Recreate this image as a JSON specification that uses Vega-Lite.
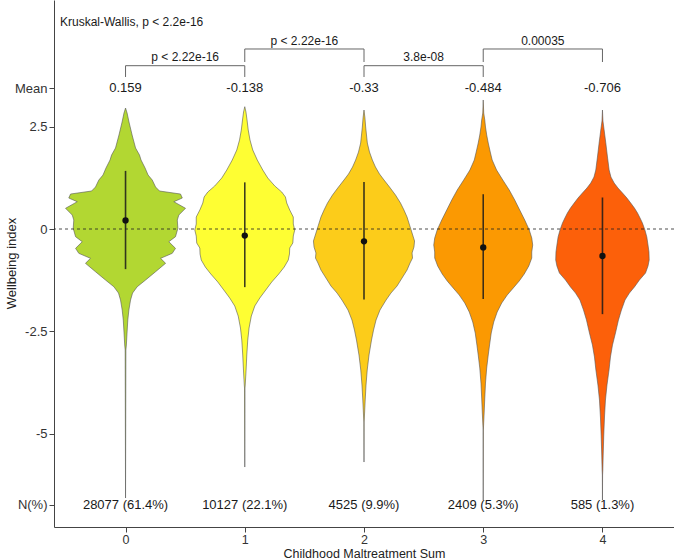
{
  "$schema": "https://vega.github.io/schema/vega-lite/v6.json",
  "width": 620,
  "height": 527,
  "autosize": {"type": "none"},
  "padding": {"left": 54, "top": 0, "right": 0, "bottom": 32},
  "background": "white",
  "config": {
    "font": "Liberation Sans",
    "view": {"stroke": null},
    "axis": {"grid": false}
  },
  "datasets": {
    "violins": [
      {"g":0,"y":2.956,"lo":0,"hi":0},{"g":0,"y":2.834,"lo":-0.013,"hi":0.013},{"g":0,"y":2.614,"lo":-0.029,"hi":0.029},{"g":0,"y":2.297,"lo":-0.055,"hi":0.055},{"g":0,"y":1.979,"lo":-0.084,"hi":0.084},{"g":0,"y":1.808,"lo":-0.117,"hi":0.117},{"g":0,"y":1.686,"lo":-0.13,"hi":0.13},{"g":0,"y":1.49,"lo":-0.164,"hi":0.164},{"g":0,"y":1.319,"lo":-0.189,"hi":0.189},{"g":0,"y":1.197,"lo":-0.224,"hi":0.224},{"g":0,"y":1.026,"lo":-0.252,"hi":0.252},{"g":0,"y":0.928,"lo":-0.285,"hi":0.285},{"g":0,"y":0.855,"lo":-0.461,"hi":0.461},{"g":0,"y":0.757,"lo":-0.476,"hi":0.476},{"g":0,"y":0.667,"lo":-0.405,"hi":0.405},{"g":0,"y":0.506,"lo":-0.503,"hi":0.503},{"g":0,"y":0.342,"lo":-0.447,"hi":0.447},{"g":0,"y":0.22,"lo":-0.434,"hi":0.434},{"g":0,"y":0.017,"lo":-0.439,"hi":0.439},{"g":0,"y":-0.188,"lo":-0.419,"hi":0.419},{"g":0,"y":-0.31,"lo":-0.363,"hi":0.363},{"g":0,"y":-0.472,"lo":-0.419,"hi":0.419},{"g":0,"y":-0.594,"lo":-0.392,"hi":0.392},{"g":0,"y":-0.716,"lo":-0.294,"hi":0.294},{"g":0,"y":-0.838,"lo":-0.336,"hi":0.336},{"g":0,"y":-1.043,"lo":-0.252,"hi":0.252},{"g":0,"y":-1.246,"lo":-0.168,"hi":0.168},{"g":0,"y":-1.41,"lo":-0.098,"hi":0.098},{"g":0,"y":-1.564,"lo":-0.059,"hi":0.059},{"g":0,"y":-1.735,"lo":-0.042,"hi":0.042},{"g":0,"y":-1.979,"lo":-0.028,"hi":0.028},{"g":0,"y":-2.223,"lo":-0.019,"hi":0.019},{"g":0,"y":-2.516,"lo":-0.013,"hi":0.013},{"g":0,"y":-2.834,"lo":-0.007,"hi":0.007},{"g":0,"y":-2.956,"lo":-0.003,"hi":0.003},{"g":0,"y":-6.572,"lo":0,"hi":0},
      {"g":1,"y":2.988,"lo":1,"hi":1},{"g":1,"y":2.859,"lo":0.99,"hi":1.01},{"g":1,"y":2.663,"lo":0.981,"hi":1.019},{"g":1,"y":2.419,"lo":0.971,"hi":1.029},{"g":1,"y":2.174,"lo":0.956,"hi":1.044},{"g":1,"y":1.93,"lo":0.933,"hi":1.067},{"g":1,"y":1.686,"lo":0.895,"hi":1.105},{"g":1,"y":1.441,"lo":0.849,"hi":1.151},{"g":1,"y":1.246,"lo":0.807,"hi":1.193},{"g":1,"y":1.051,"lo":0.748,"hi":1.252},{"g":1,"y":0.904,"lo":0.69,"hi":1.31},{"g":1,"y":0.782,"lo":0.659,"hi":1.341},{"g":1,"y":0.635,"lo":0.648,"hi":1.352},{"g":1,"y":0.464,"lo":0.623,"hi":1.377},{"g":1,"y":0.293,"lo":0.593,"hi":1.407},{"g":1,"y":0.122,"lo":0.593,"hi":1.407},{"g":1,"y":-0.024,"lo":0.581,"hi":1.419},{"g":1,"y":-0.171,"lo":0.593,"hi":1.407},{"g":1,"y":-0.342,"lo":0.597,"hi":1.403},{"g":1,"y":-0.464,"lo":0.623,"hi":1.377},{"g":1,"y":-0.611,"lo":0.625,"hi":1.375},{"g":1,"y":-0.757,"lo":0.635,"hi":1.365},{"g":1,"y":-0.928,"lo":0.669,"hi":1.331},{"g":1,"y":-1.099,"lo":0.715,"hi":1.285},{"g":1,"y":-1.295,"lo":0.774,"hi":1.226},{"g":1,"y":-1.49,"lo":0.824,"hi":1.176},{"g":1,"y":-1.686,"lo":0.874,"hi":1.126},{"g":1,"y":-1.881,"lo":0.916,"hi":1.084},{"g":1,"y":-2.126,"lo":0.945,"hi":1.055},{"g":1,"y":-2.419,"lo":0.964,"hi":1.036},{"g":1,"y":-2.712,"lo":0.975,"hi":1.025},{"g":1,"y":-3.078,"lo":0.983,"hi":1.017},{"g":1,"y":-3.445,"lo":0.989,"hi":1.011},{"g":1,"y":-3.811,"lo":0.996,"hi":1.004},{"g":1,"y":-3.885,"lo":0.998,"hi":1.002},{"g":1,"y":-5.815,"lo":1,"hi":1},
      {"g":2,"y":2.907,"lo":2,"hi":2},{"g":2,"y":2.712,"lo":1.992,"hi":2.008},{"g":2,"y":2.492,"lo":1.986,"hi":2.014},{"g":2,"y":2.101,"lo":1.972,"hi":2.028},{"g":2,"y":1.881,"lo":1.954,"hi":2.046},{"g":2,"y":1.686,"lo":1.93,"hi":2.07},{"g":2,"y":1.515,"lo":1.904,"hi":2.096},{"g":2,"y":1.344,"lo":1.87,"hi":2.13},{"g":2,"y":1.197,"lo":1.832,"hi":2.168},{"g":2,"y":1.026,"lo":1.786,"hi":2.214},{"g":2,"y":0.831,"lo":1.736,"hi":2.264},{"g":2,"y":0.635,"lo":1.694,"hi":2.306},{"g":2,"y":0.464,"lo":1.665,"hi":2.335},{"g":2,"y":0.293,"lo":1.639,"hi":2.361},{"g":2,"y":0.098,"lo":1.618,"hi":2.382},{"g":2,"y":-0.098,"lo":1.597,"hi":2.403},{"g":2,"y":-0.293,"lo":1.576,"hi":2.424},{"g":2,"y":-0.44,"lo":1.581,"hi":2.419},{"g":2,"y":-0.586,"lo":1.597,"hi":2.403},{"g":2,"y":-0.709,"lo":1.593,"hi":2.407},{"g":2,"y":-0.831,"lo":1.614,"hi":2.386},{"g":2,"y":-1.002,"lo":1.639,"hi":2.361},{"g":2,"y":-1.197,"lo":1.681,"hi":2.319},{"g":2,"y":-1.393,"lo":1.723,"hi":2.277},{"g":2,"y":-1.564,"lo":1.774,"hi":2.226},{"g":2,"y":-1.735,"lo":1.815,"hi":2.185},{"g":2,"y":-1.979,"lo":1.866,"hi":2.134},{"g":2,"y":-2.223,"lo":1.899,"hi":2.101},{"g":2,"y":-2.468,"lo":1.92,"hi":2.08},{"g":2,"y":-2.712,"lo":1.937,"hi":2.063},{"g":2,"y":-3.078,"lo":1.958,"hi":2.042},{"g":2,"y":-3.445,"lo":1.973,"hi":2.027},{"g":2,"y":-3.811,"lo":1.983,"hi":2.017},{"g":2,"y":-4.178,"lo":1.99,"hi":2.01},{"g":2,"y":-4.618,"lo":1.997,"hi":2.003},{"g":2,"y":-4.715,"lo":1.999,"hi":2.001},{"g":2,"y":-5.693,"lo":2,"hi":2},
      {"g":3,"y":3.152,"lo":3,"hi":3},{"g":3,"y":2.834,"lo":2.996,"hi":3.004},{"g":3,"y":2.663,"lo":2.987,"hi":3.013},{"g":3,"y":2.492,"lo":2.981,"hi":3.019},{"g":3,"y":2.297,"lo":2.971,"hi":3.029},{"g":3,"y":2.101,"lo":2.958,"hi":3.042},{"g":3,"y":1.881,"lo":2.941,"hi":3.059},{"g":3,"y":1.686,"lo":2.925,"hi":3.075},{"g":3,"y":1.441,"lo":2.888,"hi":3.112},{"g":3,"y":1.197,"lo":2.836,"hi":3.164},{"g":3,"y":0.953,"lo":2.782,"hi":3.218},{"g":3,"y":0.709,"lo":2.736,"hi":3.264},{"g":3,"y":0.464,"lo":2.694,"hi":3.306},{"g":3,"y":0.22,"lo":2.652,"hi":3.348},{"g":3,"y":-0.024,"lo":2.614,"hi":3.386},{"g":3,"y":-0.22,"lo":2.593,"hi":3.407},{"g":3,"y":-0.391,"lo":2.585,"hi":3.415},{"g":3,"y":-0.562,"lo":2.593,"hi":3.407},{"g":3,"y":-0.709,"lo":2.593,"hi":3.407},{"g":3,"y":-0.904,"lo":2.618,"hi":3.382},{"g":3,"y":-1.099,"lo":2.656,"hi":3.344},{"g":3,"y":-1.27,"lo":2.698,"hi":3.302},{"g":3,"y":-1.441,"lo":2.748,"hi":3.252},{"g":3,"y":-1.613,"lo":2.799,"hi":3.201},{"g":3,"y":-1.808,"lo":2.845,"hi":3.155},{"g":3,"y":-2.028,"lo":2.883,"hi":3.117},{"g":3,"y":-2.272,"lo":2.912,"hi":3.088},{"g":3,"y":-2.541,"lo":2.933,"hi":3.067},{"g":3,"y":-2.834,"lo":2.947,"hi":3.053},{"g":3,"y":-3.078,"lo":2.958,"hi":3.042},{"g":3,"y":-3.396,"lo":2.971,"hi":3.029},{"g":3,"y":-3.763,"lo":2.981,"hi":3.019},{"g":3,"y":-4.129,"lo":2.987,"hi":3.013},{"g":3,"y":-4.471,"lo":2.992,"hi":3.008},{"g":3,"y":-4.789,"lo":2.997,"hi":3.003},{"g":3,"y":-4.911,"lo":2.999,"hi":3.001},{"g":3,"y":-6.621,"lo":3,"hi":3},
      {"g":4,"y":2.907,"lo":4,"hi":4},{"g":4,"y":2.639,"lo":3.996,"hi":4.004},{"g":4,"y":2.419,"lo":3.986,"hi":4.014},{"g":4,"y":2.101,"lo":3.972,"hi":4.028},{"g":4,"y":1.759,"lo":3.958,"hi":4.042},{"g":4,"y":1.441,"lo":3.944,"hi":4.056},{"g":4,"y":1.27,"lo":3.929,"hi":4.071},{"g":4,"y":1.124,"lo":3.902,"hi":4.098},{"g":4,"y":1.002,"lo":3.87,"hi":4.13},{"g":4,"y":0.88,"lo":3.832,"hi":4.168},{"g":4,"y":0.757,"lo":3.795,"hi":4.205},{"g":4,"y":0.635,"lo":3.763,"hi":4.237},{"g":4,"y":0.513,"lo":3.732,"hi":4.268},{"g":4,"y":0.391,"lo":3.706,"hi":4.294},{"g":4,"y":0.269,"lo":3.685,"hi":4.315},{"g":4,"y":0.147,"lo":3.665,"hi":4.335},{"g":4,"y":-0.024,"lo":3.644,"hi":4.356},{"g":4,"y":-0.195,"lo":3.628,"hi":4.372},{"g":4,"y":-0.391,"lo":3.618,"hi":4.382},{"g":4,"y":-0.562,"lo":3.61,"hi":4.39},{"g":4,"y":-0.757,"lo":3.608,"hi":4.392},{"g":4,"y":-0.904,"lo":3.618,"hi":4.382},{"g":4,"y":-1.075,"lo":3.639,"hi":4.361},{"g":4,"y":-1.246,"lo":3.69,"hi":4.31},{"g":4,"y":-1.417,"lo":3.732,"hi":4.268},{"g":4,"y":-1.564,"lo":3.774,"hi":4.226},{"g":4,"y":-1.735,"lo":3.811,"hi":4.189},{"g":4,"y":-1.979,"lo":3.841,"hi":4.159},{"g":4,"y":-2.223,"lo":3.866,"hi":4.134},{"g":4,"y":-2.541,"lo":3.891,"hi":4.109},{"g":4,"y":-2.834,"lo":3.916,"hi":4.084},{"g":4,"y":-3.127,"lo":3.933,"hi":4.067},{"g":4,"y":-3.445,"lo":3.945,"hi":4.055},{"g":4,"y":-3.811,"lo":3.962,"hi":4.038},{"g":4,"y":-4.178,"lo":3.975,"hi":4.025},{"g":4,"y":-4.593,"lo":3.983,"hi":4.017},{"g":4,"y":-5.033,"lo":3.989,"hi":4.011},{"g":4,"y":-5.522,"lo":3.994,"hi":4.006},{"g":4,"y":-5.888,"lo":3.997,"hi":4.003},{"g":4,"y":-6.01,"lo":3.999,"hi":4.001},{"g":4,"y":-6.621,"lo":4,"hi":4}
    ],
    "stats": [
      {"g":0,"m":0.21,"top":1.42,"bot":-0.98,"mean":"0.159","n":"28077 (61.4%)"},
      {"g":1,"m":-0.16,"top":1.14,"bot":-1.42,"mean":"-0.138","n":"10127 (22.1%)"},
      {"g":2,"m":-0.3,"top":1.15,"bot":-1.72,"mean":"-0.33","n":"4525 (9.9%)"},
      {"g":3,"m":-0.45,"top":0.85,"bot":-1.71,"mean":"-0.484","n":"2409 (5.3%)"},
      {"g":4,"m":-0.66,"top":0.77,"bot":-2.08,"mean":"-0.706","n":"585 (1.3%)"}
    ],
    "brackets": [
      {"x1":0,"x2":1,"y1":3.99,"y2":3.99},{"x1":0,"x2":0,"y1":3.99,"y2":3.714},{"x1":1,"x2":1,"y1":3.99,"y2":3.714},
      {"x1":1,"x2":2,"y1":4.398,"y2":4.398},{"x1":1,"x2":1,"y1":4.398,"y2":4.08},{"x1":2,"x2":2,"y1":4.398,"y2":4.08},
      {"x1":2,"x2":3,"y1":3.99,"y2":3.99},{"x1":2,"x2":2,"y1":3.99,"y2":3.714},{"x1":3,"x2":3,"y1":3.99,"y2":3.714},
      {"x1":3,"x2":4,"y1":4.398,"y2":4.398},{"x1":3,"x2":3,"y1":4.398,"y2":4.08},{"x1":4,"x2":4,"y1":4.398,"y2":4.08}
    ],
    "plabels": [
      {"x":0.5,"y":4.202,"t":"p < 2.22e-16"},
      {"x":1.5,"y":4.593,"t":"p < 2.22e-16"},
      {"x":2.5,"y":4.202,"t":"3.8e-08"},
      {"x":3.5,"y":4.593,"t":"0.00035"}
    ],
    "kw": [{"x":-0.55,"y":5.057,"t":"Kruskal-Wallis, p < 2.2e-16"}]
  },
  "layer": [
    {
      "data": {"name": "violins"},
      "mark": {"type": "area", "orient": "horizontal", "stroke": "#555555", "strokeWidth": 0.6, "opacity": 1},
      "encoding": {
        "y": {"field": "y", "type": "quantitative", "title": "Wellbeing index",
              "scale": {"domain": [-7.28, 5.595], "nice": false, "zero": false},
              "axis": {"values": [-6.74, -5, -2.5, 0, 2.5, 3.445],
                       "labelExpr": "datum.value > 3 ? 'Mean' : (datum.value < -6 ? 'N(%)' : '' + datum.value)",
                       "domainColor": "#444444", "tickColor": "#444444", "tickSize": 5, "labelPadding": 2,
                       "labelFontSize": 13, "labelColor": "#333333", "labelFlush": false, "labelOverlap": false,
                       "titleFontSize": 13, "titleFontWeight": "normal", "titleColor": "#222222",
                       "titleX": -43, "titleY": 263, "titleAlign": "center", "titleBaseline": "middle", "titleAngle": -90}},
        "x": {"field": "lo", "type": "quantitative", "title": "Childhood Maltreatment Sum", "stack": null,
              "scale": {"domain": [-0.6, 4.6], "nice": false, "zero": false},
              "axis": {"values": [0, 1, 2, 3, 4], "format": "d",
                       "domainColor": "#444444", "tickColor": "#444444", "tickSize": 5, "labelPadding": 1,
                       "labelFontSize": 12.5, "labelColor": "#333333", "labelFlush": false,
                       "titleFontSize": 12.5, "titleFontWeight": "normal", "titleColor": "#222222",
                       "titleY": 26, "titleBaseline": "middle"}},
        "x2": {"field": "hi"},
        "color": {"field": "g", "type": "nominal", "legend": null,
                  "scale": {"domain": [0, 1, 2, 3, 4], "range": ["#B2D732", "#FEFE33", "#FCCC1A", "#FB9902", "#FC600A"]}},
        "detail": {"field": "g"}
      }
    },
    {
      "data": {"values": [{"z": 0}]},
      "mark": {"type": "rule", "color": "#222222", "strokeWidth": 0.8, "strokeDash": [3, 3]},
      "encoding": {
        "y": {"field": "z", "type": "quantitative", "title": "Wellbeing index", "scale": {"domain": [-7.28, 5.595], "nice": false, "zero": false}}
      }
    },
    {
      "data": {"name": "stats"},
      "mark": {"type": "rule", "color": "#1a1a1a", "strokeWidth": 1.6, "opacity": 0.85},
      "encoding": {
        "x": {"field": "g", "type": "quantitative", "title": "Childhood Maltreatment Sum", "scale": {"domain": [-0.6, 4.6], "nice": false, "zero": false}},
        "y": {"field": "top", "type": "quantitative", "title": "Wellbeing index", "scale": {"domain": [-7.28, 5.595], "nice": false, "zero": false}},
        "y2": {"field": "bot"}
      }
    },
    {
      "data": {"name": "stats"},
      "mark": {"type": "circle", "color": "#111111", "size": 40, "opacity": 1},
      "encoding": {
        "x": {"field": "g", "type": "quantitative", "title": "Childhood Maltreatment Sum", "scale": {"domain": [-0.6, 4.6], "nice": false, "zero": false}},
        "y": {"field": "m", "type": "quantitative", "title": "Wellbeing index", "scale": {"domain": [-7.28, 5.595], "nice": false, "zero": false}}
      }
    },
    {
      "data": {"name": "stats"},
      "mark": {"type": "text", "fontSize": 13, "color": "#1a1a1a", "baseline": "middle", "align": "center"},
      "encoding": {
        "x": {"field": "g", "type": "quantitative", "title": "Childhood Maltreatment Sum", "scale": {"domain": [-0.6, 4.6], "nice": false, "zero": false}},
        "y": {"datum": 3.445, "type": "quantitative", "title": "Wellbeing index", "scale": {"domain": [-7.28, 5.595], "nice": false, "zero": false}},
        "text": {"field": "mean"}
      }
    },
    {
      "data": {"name": "stats"},
      "mark": {"type": "text", "fontSize": 13, "color": "#1a1a1a", "baseline": "middle", "align": "center"},
      "encoding": {
        "x": {"field": "g", "type": "quantitative", "title": "Childhood Maltreatment Sum", "scale": {"domain": [-0.6, 4.6], "nice": false, "zero": false}},
        "y": {"datum": -6.74, "type": "quantitative", "title": "Wellbeing index", "scale": {"domain": [-7.28, 5.595], "nice": false, "zero": false}},
        "text": {"field": "n"}
      }
    },
    {
      "data": {"name": "brackets"},
      "mark": {"type": "rule", "color": "#666666", "strokeWidth": 1},
      "encoding": {
        "x": {"field": "x1", "type": "quantitative", "title": "Childhood Maltreatment Sum", "scale": {"domain": [-0.6, 4.6], "nice": false, "zero": false}},
        "x2": {"field": "x2"},
        "y": {"field": "y1", "type": "quantitative", "title": "Wellbeing index", "scale": {"domain": [-7.28, 5.595], "nice": false, "zero": false}},
        "y2": {"field": "y2"}
      }
    },
    {
      "data": {"name": "plabels"},
      "mark": {"type": "text", "fontSize": 12, "color": "#1a1a1a", "baseline": "middle", "align": "center"},
      "encoding": {
        "x": {"field": "x", "type": "quantitative", "title": "Childhood Maltreatment Sum", "scale": {"domain": [-0.6, 4.6], "nice": false, "zero": false}},
        "y": {"field": "y", "type": "quantitative", "title": "Wellbeing index", "scale": {"domain": [-7.28, 5.595], "nice": false, "zero": false}},
        "text": {"field": "t"}
      }
    },
    {
      "data": {"name": "kw"},
      "mark": {"type": "text", "fontSize": 12, "color": "#1a1a1a", "baseline": "middle", "align": "left"},
      "encoding": {
        "x": {"field": "x", "type": "quantitative", "title": "Childhood Maltreatment Sum", "scale": {"domain": [-0.6, 4.6], "nice": false, "zero": false}},
        "y": {"field": "y", "type": "quantitative", "title": "Wellbeing index", "scale": {"domain": [-7.28, 5.595], "nice": false, "zero": false}},
        "text": {"field": "t"}
      }
    }
  ]
}
